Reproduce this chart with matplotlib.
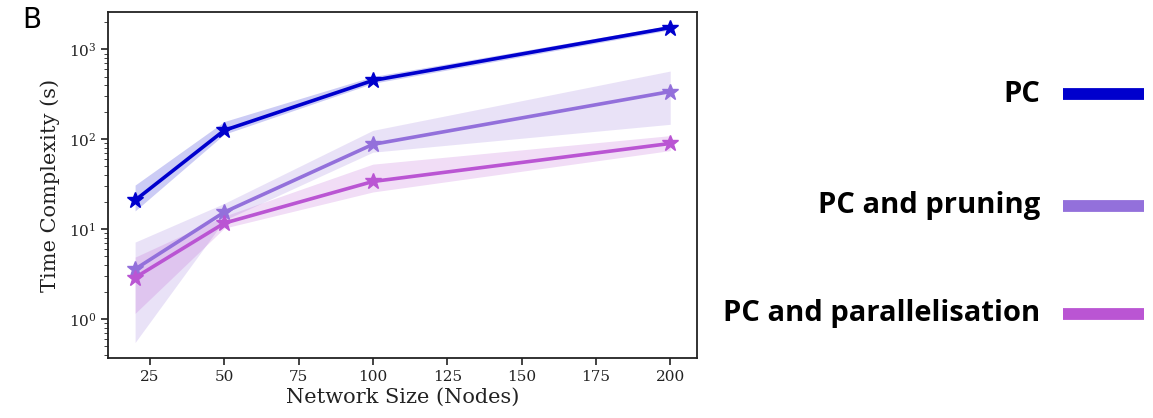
import numpy as np
import matplotlib
matplotlib.use('Agg')
from matplotlib import pyplot as plt
from matplotlib.lines import Line2D

plt.rcParams['font.family'] = 'DejaVu Serif'
plt.rcParams['mathtext.fontset'] = 'dejavuserif'

sizes = [20, 50, 100, 200]

pc = [21, 126, 452, 1750]
pc_lo = [16, 114, 420, 1650]
pc_hi = [31, 158, 500, 1850]

prune = [3.6, 15.5, 88, 340]
prune_lo = [0.55, 12.6, 72, 147]
prune_hi = [7.2, 19.4, 126, 575]

para = [2.9, 11.7, 34, 90]
para_lo = [1.16, 10.3, 26, 75]
para_hi = [4.9, 14, 53, 110]

labels = ['PC', 'PC and pruning', 'PC and parallelisation']
colors = ['#0000CD', '#9370DB', '#BA55D3']

fig = plt.figure(figsize=(11.53, 4.18), dpi=100)
ax = fig.add_axes([0.0937, 0.1435, 0.5108, 0.8275])

series = [(pc, pc_lo, pc_hi), (prune, prune_lo, prune_hi), (para, para_lo, para_hi)]
for (m, lo, hi), c in zip(series, colors):
    ax.fill_between(sizes, lo, hi, color=c, alpha=0.2, linewidth=0)
    ax.plot(sizes, m, color=c, lw=2.6, marker='*', ms=12)

ax.set_yscale('log')
ax.set_ylim(0.37, 2600)
ax.set_xlim(10.9, 209)
ax.set_xticks([25, 50, 75, 100, 125, 150, 175, 200])
ax.set_xlabel('Network Size (Nodes)', fontsize=15, color='#222222', labelpad=3)
ax.set_ylabel('Time Complexity (s)', fontsize=15, color='#222222', labelpad=6)
ax.tick_params(labelsize=11, colors='#222222', length=5, width=1.2)
ax.tick_params(which='minor', colors='#222222', length=3)
for s in ax.spines.values():
    s.set_linewidth(1.3)
    s.set_color('#222222')

fig.text(0.019, 0.985, 'B', fontsize=20, family='DejaVu Sans', va='top', ha='left')

# legend drawn beside the axes
ys = [0.775, 0.508, 0.249]
for lab, c, y in zip(labels, colors, ys):
    fig.text(0.902, y, lab, fontsize=21, family='Open Sans', weight='bold',
             ha='right', va='center')
    fig.add_artist(Line2D([0.922, 0.992], [y, y], color=c, lw=8.5,
                          transform=fig.transFigure, solid_capstyle='butt'))

fig.savefig('out.png', dpi=100)
